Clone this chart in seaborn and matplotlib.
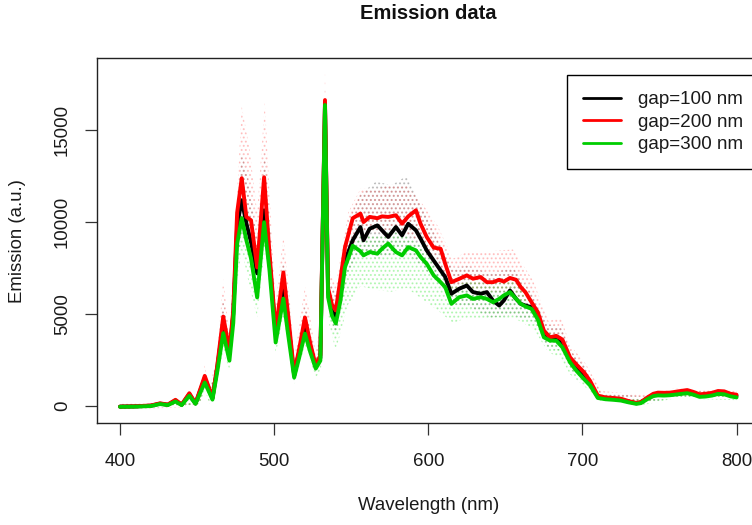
import numpy as np
import pandas as pd
import matplotlib
matplotlib.use("Agg")
import matplotlib.pyplot as plt
from matplotlib.lines import Line2D
import seaborn as sns

# ---------------- data ----------------
wavelength = [400, 410, 420, 426, 431, 436, 440, 445, 449, 455, 460, 463, 467, 471, 473.5, 476,
              479, 482, 485, 489, 493.5, 497, 501, 506, 509, 513, 516.5, 520, 523.5, 527, 530,
              533, 535, 537.5, 540, 543, 546, 551, 556, 558, 562, 567, 570, 574, 579, 583, 587,
              592, 595, 599, 603.5, 608, 611, 615, 620, 625, 629, 634, 638, 642, 646, 649, 653,
              657, 660, 663, 667, 671, 675, 679, 683, 687, 692, 696, 701, 705, 710, 715, 720,
              725, 730, 735, 738, 742, 746, 749, 753, 757, 762, 768, 772, 776, 780, 784, 788,
              792, 796, 800]

gap100 = [-50, -40, 0, 110, 50, 280, 50, 620, 120, 1500, 400, 2000, 4500, 2830, 5000, 9800,
          11180, 9920, 8900, 7200, 10630, 7900, 3980, 6650, 4630, 1650, 3000, 4250, 3100, 2100, 2600,
          16400, 6200, 5200, 4800, 6000, 7900, 9000, 9720, 9000, 9630, 9810, 9540, 9180, 9720, 9270, 9900,
          9540, 9090, 8450, 7900, 7360, 7000, 6090, 6360, 6540, 6180, 6090, 6180, 5720, 5450, 5720, 6270,
          5810, 5540, 5450, 5360, 4900, 3910, 3640, 3640, 3360, 2450, 2090, 1700, 1200, 480, 400, 380,
          330, 220, 130, 180, 400, 580, 640, 620, 640, 700, 760, 680, 550, 580, 620, 720,
          700, 580, 530]

gap200 = [-50, -30, 10, 130, 60, 320, 60, 680, 130, 1620, 440, 2100, 4850, 3000, 5200, 10500,
          12380, 10270, 10090, 7520, 12430, 8290, 4090, 7250, 5010, 1745, 3200, 4800, 3380, 2180, 2750,
          16630, 6400, 5500, 5180, 6900, 8630, 10200, 10450, 9990, 10270, 10200, 10300, 10270, 10360, 9900, 10300,
          10630, 9900, 9180, 8600, 8540, 7720, 6720, 6900, 7090, 6910, 7000, 6720, 6720, 6850, 6750, 6950,
          6850, 6450, 6180, 5630, 5100, 4090, 3720, 3800, 3600, 2630, 2250, 1820, 1350, 550, 450, 420,
          380, 250, 150, 200, 440, 650, 710, 700, 710, 780, 850, 750, 620, 650, 700, 800,
          780, 650, 600]

gap300 = [-60, -50, -20, 90, 30, 230, 30, 540, 100, 1260, 330, 1800, 3950, 2450, 4500, 8800,
          10200, 9000, 8020, 5890, 9980, 7360, 3440, 5830, 3925, 1530, 2700, 3925, 2900, 2020, 2450,
          16360, 5900, 4900, 4470, 5700, 7540, 8700, 8400, 8180, 8360, 8270, 8540, 8820, 8360, 8180, 8630,
          8450, 8090, 7720, 7090, 6720, 6450, 5540, 5900, 6000, 5810, 5900, 5810, 5630, 5810, 6000, 6180,
          5810, 5540, 5400, 5270, 4700, 3720, 3540, 3540, 3180, 2360, 1910, 1450, 1100, 420, 350, 320,
          280, 180, 100, 140, 350, 520, 560, 550, 570, 620, 680, 600, 480, 500, 550, 640,
          620, 510, 450]

# spread of the raw (dotted) measurements
spread_wl = [400, 440, 452, 455, 458, 463, 467, 471, 475, 479, 484, 489, 494, 498, 501, 506, 510,
             513, 520, 524, 527, 530.5, 533, 535.5, 540, 548, 556, 566, 576, 586, 596, 606, 616,
             626, 640, 655, 668, 678, 686, 692, 702, 712, 740, 760, 800]

gap100_hi = [50, 150, 500, 1900, 800, 2500, 5800, 3500, 9500, 13800, 12000, 9000, 13800, 9000, 5000,
             8000, 5500, 2200, 5500, 4000, 2500, 4500, 17000, 7000, 6000, 10000, 11500, 12200, 12000,
             12500, 10800, 9000, 7500, 7600, 7200, 7500, 6000, 4400, 4300, 3000, 2100, 700, 500, 850, 700]
gap100_lo = [-150, -50, 150, 1100, 200, 1400, 3600, 2300, 6500, 9500, 8000, 6000, 9000, 6500, 3300,
             5800, 3700, 1300, 3600, 2600, 1800, 2300, 15500, 5200, 3800, 7200, 8300, 8000, 8200,
             8300, 7600, 6700, 5500, 5400, 4800, 4900, 4600, 3100, 3000, 2000, 1300, 300, 100, 450, 350]

gap200_hi = [100, 150, 600, 2200, 900, 2800, 6900, 3800, 10000, 16300, 14000, 10500, 16500, 10000, 5500,
             9300, 6000, 2500, 6500, 4500, 2800, 5000, 18200, 7500, 6500, 10500, 11800, 11800, 12000,
             12000, 11000, 9800, 8000, 8400, 8400, 8500, 6800, 4600, 4800, 3300, 2300, 800, 600, 950, 800]
gap200_lo = [-200, -100, 200, 1200, 200, 1500, 4000, 2500, 7000, 11000, 9300, 6800, 11000, 7000, 3600,
             6300, 4000, 1400, 4200, 2800, 1900, 2500, 15500, 5500, 4700, 8000, 9600, 9400, 9500,
             9300, 8800, 7800, 6200, 6400, 6200, 6200, 5100, 3400, 3300, 2300, 1500, 400, 200, 550, 450]

gap300_hi = [50, 100, 400, 1600, 700, 2200, 4800, 3000, 8500, 11500, 10000, 7000, 11000, 8000, 4000,
             6600, 4500, 1900, 4500, 3500, 2400, 4000, 16500, 6500, 5000, 8000, 9300, 9200, 9500,
             9200, 8700, 7800, 6500, 6800, 6600, 6800, 5700, 4000, 3600, 2700, 1800, 600, 400, 750, 600]
gap300_lo = [-150, -50, 100, 900, 100, 1200, 3000, 1900, 6000, 8500, 6500, 4800, 8500, 5800, 2800,
             4800, 3000, 1100, 3300, 2300, 1500, 2000, 15000, 4500, 3000, 5500, 6500, 6300, 6200,
             6400, 5800, 5200, 4500, 4800, 4700, 4800, 4200, 2900, 2600, 1700, 1000, 250, 50, 400, 300]

labels = ["gap=100 nm", "gap=200 nm", "gap=300 nm"]
colors = ["#000000", "#FF0000", "#00CD00"]

x_ticks = [400, 500, 600, 700, 800]
y_ticks = [0, 5000, 10000, 15000]

# ---------------- figure ----------------
sns.set_theme(style="white")
plt.rcParams["font.family"] = ["Liberation Sans", "DejaVu Sans"]
plt.rcParams["hatch.linewidth"] = 0.9

W, H = 752, 525
fig = plt.figure(figsize=(W / 100, H / 100), dpi=100)
fig.patch.set_facecolor("white")
left_px, right_px, top_px, bot_px = 96.7, 760.6, 58.0, 423.3
ax = fig.add_axes([left_px / W, 1 - bot_px / H, (right_px - left_px) / W, (bot_px - top_px) / H])
ax.set_facecolor("white")

series = [gap100, gap200, gap300]
his = [gap100_hi, gap200_hi, gap300_hi]
los = [gap100_lo, gap200_lo, gap300_lo]
dot_cols = [(0.3, 0.3, 0.3, 0.32), (1.0, 0.35, 0.35, 0.32), (0.2, 0.9, 0.2, 0.32)]

# raw measurement scatter (dotted haze)
for hi, lo, dc in zip(his, los, dot_cols):
    ax.fill_between(spread_wl, lo, hi, facecolor="none", edgecolor=dc,
                    hatch="....", linewidth=0, zorder=1)

# smoothed curves
for vals, lab, col in zip(series, labels, colors):
    df = pd.DataFrame({"wavelength": wavelength, "emission": vals})
    sns.lineplot(data=df, x="wavelength", y="emission", color=col, lw=2.8,
                 estimator=None, sort=False, ax=ax, legend=False, zorder=3)

ax.set_xlim(384.9, 815.6)
ax.set_ylim(-958, 18917)
ax.set_xticks(x_ticks)
ax.set_xticklabels([str(t) for t in x_ticks])
ax.set_yticks(y_ticks)
ax.set_yticklabels([str(t) for t in y_ticks], rotation=90, va="center")
ax.tick_params(axis="both", direction="out", length=8.6, width=0.9, color="#333333",
               labelsize=13.4, labelcolor="#1a1a1a")
ax.tick_params(axis="x", pad=13)
ax.tick_params(axis="y", pad=10)
ax.tick_params(axis="both", which="both", bottom=True, left=True, top=False, right=False)
for sp in ax.spines.values():
    sp.set_visible(True)
    sp.set_color("#222222")
    sp.set_linewidth(1.0)

ax.set_xlabel("Wavelength (nm)", fontsize=13.4, color="#1a1a1a", va="center")
ax.xaxis.set_label_coords(0.5, -(506 - bot_px) / (bot_px - top_px))
ax.set_ylabel("Emission (a.u.)", fontsize=13.4, color="#1a1a1a", va="center")
ax.yaxis.set_label_coords(-(left_px - 17) / (right_px - left_px), 0.5)

fig.text(428.7 / W, 1 - 13.5 / H, "Emission data", ha="center", va="center",
         fontsize=14.5, fontweight="bold", color="#111111")

handles = [Line2D([0], [0], color=c, lw=2.0) for c in colors]
leg = ax.legend(handles, labels, loc="upper left", bbox_to_anchor=(567 / W, 1 - 75 / H),
                bbox_transform=fig.transFigure, borderaxespad=0, fancybox=False,
                edgecolor="black", framealpha=1, fontsize=13.6, handlelength=2.0,
                handletextpad=0.9, borderpad=0.85, labelspacing=0.28)
leg.get_frame().set_linewidth(1.0)
for t in leg.get_texts():
    t.set_color("#1a1a1a")

fig.savefig("out.png", dpi=100, facecolor="white")
